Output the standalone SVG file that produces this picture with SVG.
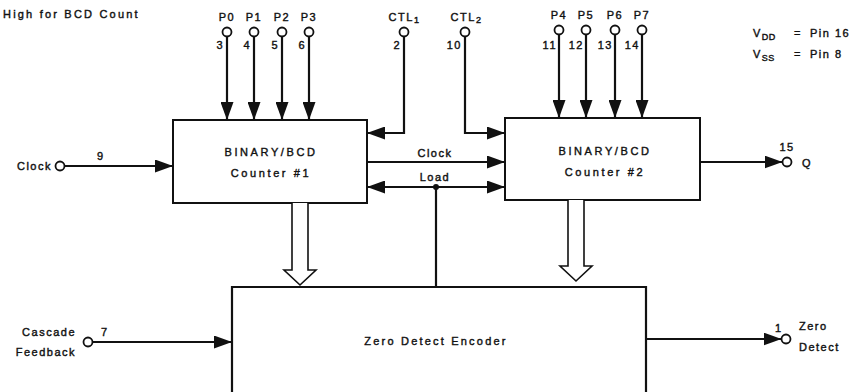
<svg xmlns="http://www.w3.org/2000/svg" width="859" height="392" viewBox="0 0 859 392">
<style>
text{font-family:"Liberation Sans",Arial,Helvetica,sans-serif;font-size:11px;fill:#111;letter-spacing:1.5px;stroke:#111;stroke-width:0.4}
.m{text-anchor:middle}
.e{text-anchor:end}
.bl{font-size:11px;letter-spacing:2.6px}
.sub{font-size:9px;letter-spacing:0.5px}
.box{fill:#fff;stroke:#111;stroke-width:2}
.w{fill:none;stroke:#111;stroke-width:2.2}
.pin{fill:#fff;stroke:#111;stroke-width:1.8}
.hol{fill:#fff;stroke:#111;stroke-width:1.6;stroke-linejoin:miter}
</style>
<defs>
<marker id="a" markerUnits="userSpaceOnUse" markerWidth="18" markerHeight="13" refX="18" refY="6.5" orient="auto-start-reverse"><path d="M0,0 L18,6.5 L0,13 z" fill="#111"/></marker>
</defs>

<text x="3" y="18" style="letter-spacing:2.2px">High for BCD Count</text>

<g id="supply">
<text x="753" y="37">V<tspan class="sub" dy="3">DD</tspan><tspan x="794" dy="-3">=</tspan><tspan x="810">Pin 16</tspan></text>
<text x="753" y="58">V<tspan class="sub" dy="3">SS</tspan><tspan x="794" dy="-3">=</tspan><tspan x="810">Pin 8</tspan></text>
</g>

<g id="counter1">
<rect class="box" x="173" y="120" width="194" height="83"/>
<text class="m bl" x="271" y="156">BINARY/BCD</text>
<text class="m bl" x="271" y="177">Counter  #1</text>
</g>

<g id="counter2">
<rect class="box" x="505" y="118" width="195" height="82"/>
<text class="m bl" x="605" y="155">BINARY/BCD</text>
<text class="m bl" x="605" y="176">Counter  #2</text>
</g>

<g id="zero-detect">
<path class="w" d="M232,395 V287 H646 V395"/>
<text class="m bl" x="436" y="345" style="letter-spacing:2.2px">Zero Detect Encoder</text>
</g>

<g id="connectors">
<line class="w" x1="227" y1="36.5" x2="227" y2="120" marker-end="url(#a)"/>
<line class="w" x1="254" y1="36.5" x2="254" y2="120" marker-end="url(#a)"/>
<line class="w" x1="282" y1="36.5" x2="282" y2="120" marker-end="url(#a)"/>
<line class="w" x1="309" y1="36.5" x2="309" y2="120" marker-end="url(#a)"/>
<line class="w" x1="559" y1="34.5" x2="559" y2="118" marker-end="url(#a)"/>
<line class="w" x1="586" y1="34.5" x2="586" y2="118" marker-end="url(#a)"/>
<line class="w" x1="615" y1="34.5" x2="615" y2="118" marker-end="url(#a)"/>
<line class="w" x1="642" y1="34.5" x2="642" y2="118" marker-end="url(#a)"/>
<polyline class="w" points="404,36.5 404,133 367,133" marker-end="url(#a)"/>
<polyline class="w" points="465,36.5 465,133 505,133" marker-end="url(#a)"/>
<line class="w" x1="64.5" y1="166" x2="173" y2="166" marker-end="url(#a)"/>
<line class="w" x1="367" y1="162" x2="505" y2="162" marker-end="url(#a)"/>
<line class="w" x1="367" y1="187" x2="505" y2="187" marker-start="url(#a)" marker-end="url(#a)"/>
<circle cx="436" cy="187" r="3" fill="#111"/>
<line class="w" x1="436" y1="187" x2="436" y2="287"/>
<line class="w" x1="700" y1="162" x2="782.5" y2="162" marker-end="url(#a)"/>
<line class="w" x1="92.5" y1="342" x2="232" y2="342" marker-end="url(#a)"/>
<line class="w" x1="646" y1="339" x2="781.5" y2="339" marker-end="url(#a)"/>
<path class="hol" d="M292,203 V270 H284 L300,285 L316,270 H308 V203"/>
<path class="hol" d="M568,200 V266 H560 L576,281 L592,266 H584 V200"/>
</g>

<g id="pin-p0"><circle class="pin" cx="227" cy="32" r="4.5"/><text class="m" x="227" y="21">P0</text><text class="e" x="224" y="49">3</text></g>
<g id="pin-p1"><circle class="pin" cx="254" cy="32" r="4.5"/><text class="m" x="254" y="21">P1</text><text class="e" x="251" y="49">4</text></g>
<g id="pin-p2"><circle class="pin" cx="282" cy="32" r="4.5"/><text class="m" x="282" y="21">P2</text><text class="e" x="279" y="49">5</text></g>
<g id="pin-p3"><circle class="pin" cx="309" cy="32" r="4.5"/><text class="m" x="309" y="21">P3</text><text class="e" x="306" y="49">6</text></g>
<g id="pin-ctl1"><circle class="pin" cx="404" cy="32" r="4.5"/><text class="m" x="404" y="21">CTL<tspan class="sub" dy="2">1</tspan></text><text class="e" x="401" y="49">2</text></g>
<g id="pin-ctl2"><circle class="pin" cx="465" cy="32" r="4.5"/><text class="m" x="466" y="21">CTL<tspan class="sub" dy="2">2</tspan></text><text class="e" x="462" y="49">10</text></g>
<g id="pin-p4"><circle class="pin" cx="559" cy="30" r="4.5"/><text class="m" x="559" y="19">P4</text><text class="e" x="557" y="49">11</text></g>
<g id="pin-p5"><circle class="pin" cx="586" cy="30" r="4.5"/><text class="m" x="586" y="19">P5</text><text class="e" x="584" y="49">12</text></g>
<g id="pin-p6"><circle class="pin" cx="615" cy="30" r="4.5"/><text class="m" x="615" y="19">P6</text><text class="e" x="613" y="49">13</text></g>
<g id="pin-p7"><circle class="pin" cx="642" cy="30" r="4.5"/><text class="m" x="642" y="19">P7</text><text class="e" x="640" y="49">14</text></g>
<g id="pin-clock"><circle class="pin" cx="60" cy="166" r="4.5"/><text class="e" x="52" y="170">Clock</text><text x="97" y="160">9</text></g>
<g id="pin-cascade"><circle class="pin" cx="88" cy="342" r="4.5"/><text class="e" x="76" y="336">Cascade</text><text class="e" x="76" y="356">Feedback</text><text x="101" y="336">7</text></g>
<g id="pin-q"><circle class="pin" cx="787" cy="162" r="4.5"/><text class="m" x="787" y="151">15</text><text x="802" y="167">Q</text></g>
<g id="pin-zero"><circle class="pin" cx="786" cy="339" r="4.5"/><text x="775" y="332">1</text><text x="799" y="330">Zero</text><text x="799" y="351">Detect</text></g>

<text class="m" x="435" y="157">Clock</text>
<text class="m" x="435" y="181">Load</text>
</svg>
